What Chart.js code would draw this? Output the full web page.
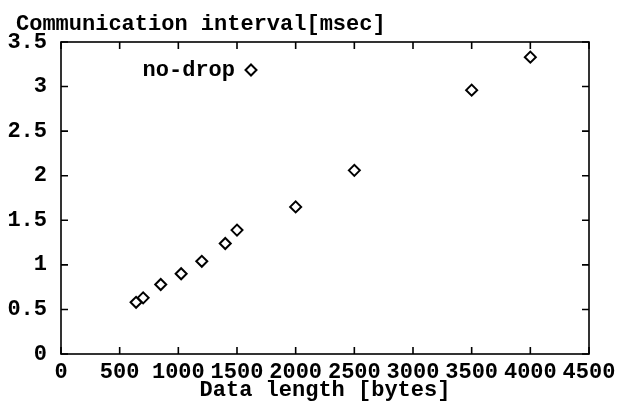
<!DOCTYPE html>
<html>
<head>
<meta charset="utf-8">
<script src="https://cdn.jsdelivr.net/npm/chart.js@4/dist/chart.umd.min.js"></script>
<style>
  html, body { margin: 0; padding: 0; background: #fff; }
  #wrap { width: 625px; height: 406px; }
</style>
</head>
<body>
<div id="wrap"><canvas id="chart" width="625" height="406"></canvas></div>
<script>
// values
const dataLength = [640, 700, 850, 1024, 1200, 1400, 1500, 2000, 2500, 3500, 4000];
const interval = [0.58, 0.63, 0.78, 0.9, 1.04, 1.24, 1.39, 1.65, 2.06, 2.96, 3.33];
const xTicks = [0, 500, 1000, 1500, 2000, 2500, 3000, 3500, 4000, 4500];
const yTicks = [0, 0.5, 1, 1.5, 2, 2.5, 3, 3.5];
const seriesName = 'no-drop';
const yTitle = 'Communication interval[msec]';
const xTitle = 'Data length [bytes]';

const FONT = "'Liberation Mono', 'DejaVu Sans Mono', monospace";
const WEIGHT = 'bold';

// box round the plot with inward tick marks on all four sides
const framePlugin = {
  id: 'frame',
  afterDatasetsDraw(chart) {
    const { ctx, chartArea: a, scales } = chart;
    const len = 7;
    ctx.save();
    ctx.strokeStyle = '#000';
    ctx.lineWidth = 1.6;
    ctx.strokeRect(a.left, a.top, a.right - a.left, a.bottom - a.top);
    ctx.beginPath();
    xTicks.forEach(v => {
      const px = scales.x.getPixelForValue(v);
      ctx.moveTo(px, a.bottom); ctx.lineTo(px, a.bottom - len);
      ctx.moveTo(px, a.top); ctx.lineTo(px, a.top + len);
    });
    yTicks.forEach(v => {
      const py = scales.y.getPixelForValue(v);
      ctx.moveTo(a.left, py); ctx.lineTo(a.left + len, py);
      ctx.moveTo(a.right, py); ctx.lineTo(a.right - len, py);
    });
    ctx.stroke();
    ctx.restore();
  }
};

// y-axis caption sits above the plot, flush with the left margin
const captionPlugin = {
  id: 'caption',
  afterDraw(chart) {
    const { ctx } = chart;
    ctx.save();
    ctx.font = WEIGHT + ' 22px ' + FONT;
    ctx.fillStyle = '#000';
    ctx.textAlign = 'left';
    ctx.textBaseline = 'alphabetic';
    ctx.fillText(yTitle, 16, 30);
    ctx.restore();
  }
};

// key inside the plot: label first, then the marker
const keyPlugin = {
  id: 'key',
  afterDatasetsDraw(chart) {
    const { ctx } = chart;
    const ds = chart.data.datasets[0];
    ctx.save();
    ctx.font = WEIGHT + ' 22px ' + FONT;
    ctx.fillStyle = '#000';
    ctx.textAlign = 'right';
    ctx.textBaseline = 'alphabetic';
    ctx.fillText(ds.label, 235, 76);
    const cx = 251, cy = 70, r = ds.pointRadius;
    ctx.beginPath();
    ctx.moveTo(cx, cy - r); ctx.lineTo(cx + r, cy);
    ctx.lineTo(cx, cy + r); ctx.lineTo(cx - r, cy);
    ctx.closePath();
    ctx.lineWidth = ds.borderWidth;
    ctx.strokeStyle = '#000';
    ctx.stroke();
    ctx.restore();
  }
};

new Chart(document.getElementById('chart'), {
  type: 'scatter',
  data: {
    datasets: [{
      label: seriesName,
      data: dataLength.map((x, i) => ({ x: x, y: interval[i] })),
      pointStyle: 'rectRot',
      pointRadius: 5.5,
      borderWidth: 2,
      borderColor: '#000',
      backgroundColor: 'rgba(0,0,0,0)'
    }]
  },
  options: {
    responsive: false,
    animation: false,
    devicePixelRatio: 1,
    layout: { padding: { left: 0, right: 36, top: 42, bottom: 0 } },
    plugins: {
      legend: { display: false },
      tooltip: { enabled: false },
      title: { display: false }
    },
    scales: {
      x: {
        type: 'linear',
        min: 0, max: 4500,
        afterBuildTicks: s => { s.ticks = xTicks.map(v => ({ value: v })); },
        afterFit: s => { s.height = 52; },
        grid: { display: false, drawTicks: false },
        border: { display: false },
        ticks: {
          color: '#000', padding: 5, maxRotation: 0, autoSkip: false,
          font: { family: FONT, size: 22, weight: WEIGHT, lineHeight: 1.2 },
          callback: v => String(v)
        },
        title: {
          display: true,
          text: xTitle,
          color: '#000',
          font: { family: FONT, size: 22, weight: WEIGHT, lineHeight: 1.2 },
          padding: { top: 0, bottom: 2 }
        }
      },
      y: {
        type: 'linear',
        min: 0, max: 3.5,
        afterBuildTicks: s => { s.ticks = yTicks.map(v => ({ value: v })); },
        afterFit: s => { s.width = 61; },
        grid: { display: false, drawTicks: false },
        border: { display: false },
        ticks: {
          color: '#000', padding: 14,
          font: { family: FONT, size: 22, weight: WEIGHT, lineHeight: 1.2 },
          callback: v => String(v)
        }
      }
    }
  },
  plugins: [framePlugin, keyPlugin, captionPlugin]
});
</script>
</body>
</html>
